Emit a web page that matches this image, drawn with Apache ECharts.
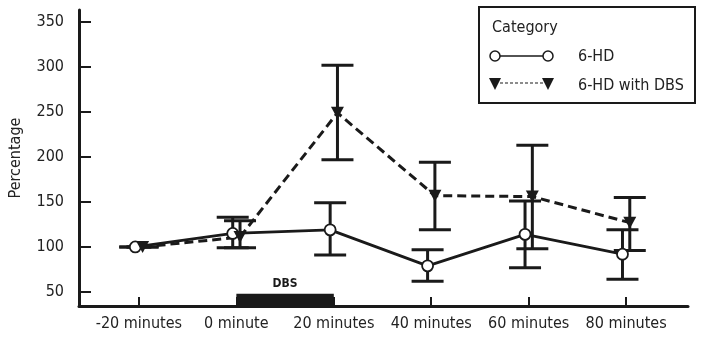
<!DOCTYPE html>
<html>
<head>
<meta charset="utf-8">
<script src="https://cdn.jsdelivr.net/npm/echarts@6/dist/echarts.min.js"></script>
<style>html,body{margin:0;padding:0;background:#fff;}#c{width:702px;height:348px;}</style>
</head>
<body>
<div id="c"></div>
<script>
// ---- data ----
const timePoints = [-20, 0, 20, 40, 60, 80];
const timeLabels = ['-20 minutes', '0 minute', '20 minutes', '40 minutes', '60 minutes', '80 minutes'];
const yTicks = [50, 100, 150, 200, 250, 300, 350];
const hdMean = [100, 115, 119, 79, 114, 92];
const hdLow = [100, 99, 91, 62, 77, 64];
const hdHigh = [100, 133, 149, 97, 151, 119];
const dbsMean = [100, 111, 249, 157, 156, 127];
const dbsLow = [100, 99, 197, 119, 98, 96];
const dbsHigh = [100, 129, 302, 194, 213, 155];
const dbsPeriod = [0, 20];
const dbsLevel = 48;
const seriesNames = ['6-HD', '6-HD with DBS'];
const legendTitle = 'Category';

// ---- build ----
const FONT = "'Liberation Sans Narrow', 'DejaVu Sans Condensed', sans-serif";
const FS = 16;
const DODGE = 0.75;
const hdX = timePoints.map(t => t - DODGE);
const dbsX = timePoints.map(t => t + DODGE);

function errData(xs, lo, hi) { return xs.map((x, i) => [x, lo[i], hi[i]]); }
function errRender(params, api) {
  const x = api.value(0);
  const lo = api.coord([x, api.value(1)]);
  const hi = api.coord([x, api.value(2)]);
  const w = 16;
  const st = { stroke: '#1a1a1a', lineWidth: 3 };
  return {
    type: 'group',
    children: [
      { type: 'line', shape: { x1: lo[0], y1: lo[1], x2: hi[0], y2: hi[1] }, style: st },
      { type: 'line', shape: { x1: lo[0] - w, y1: lo[1], x2: lo[0] + w, y2: lo[1] }, style: st },
      { type: 'line', shape: { x1: hi[0] - w, y1: hi[1], x2: hi[0] + w, y2: hi[1] }, style: st }
    ]
  };
}

const chart = echarts.init(document.getElementById('c'), null, { renderer: 'canvas' });
const option = {
  animation: false,
  backgroundColor: '#fff',
  grid: { left: 79, right: 14, top: 10, bottom: 42, containLabel: false, outerBoundsMode: 'none' },
  xAxis: {
    type: 'value', min: -32.3, max: 92.7,
    splitLine: { show: false },
    axisLine: { onZero: false, lineStyle: { color: '#1a1a1a', width: 3 } },
    axisTick: { inside: true, length: 9, lineStyle: { color: '#1a1a1a', width: 2 }, customValues: timePoints },
    axisLabel: {
      customValues: timePoints, margin: 10,
      fontFamily: FONT, fontSize: FS, color: '#222',
      formatter: v => timeLabels[timePoints.indexOf(v)]
    }
  },
  yAxis: {
    type: 'value', min: 34.4, max: 363.3,
    name: 'Percentage', nameLocation: 'middle', nameGap: 55,
    nameTextStyle: { fontFamily: FONT, fontSize: FS, color: '#222' },
    splitLine: { show: false },
    axisLine: { show: true, onZero: false, lineStyle: { color: '#1a1a1a', width: 3 } },
    axisTick: { inside: true, length: 12, lineStyle: { color: '#1a1a1a', width: 2 }, customValues: yTicks },
    axisLabel: { customValues: yTicks, margin: 15, fontFamily: FONT, fontSize: FS, color: '#222' }
  },
  series: [
    {
      type: 'custom', name: 'dbsbar', z: 1,
      data: [[dbsPeriod[0], dbsPeriod[1], dbsLevel]],
      renderItem: (params, api) => {
        const a = api.coord([api.value(0), api.value(2)]);
        const b = api.coord([api.value(1), api.value(2)]);
        const bottom = params.coordSys.y + params.coordSys.height;
        return {
          type: 'group',
          children: [
            { type: 'rect', shape: { x: a[0], y: a[1], width: b[0] - a[0], height: bottom - a[1] }, style: { fill: '#1a1a1a' } },
            { type: 'text', style: { text: 'DBS', x: (a[0] + b[0]) / 2, y: a[1] - 4, align: 'center', verticalAlign: 'bottom', font: "bold 12px 'DejaVu Sans Condensed', sans-serif", fill: '#1a1a1a' } }
          ]
        };
      }
    },
    { type: 'custom', name: 'hdErr', z: 2, data: errData(hdX, hdLow, hdHigh), renderItem: errRender },
    { type: 'custom', name: 'dbsErr', z: 2, data: errData(dbsX, dbsLow, dbsHigh), renderItem: errRender },
    {
      type: 'line', name: seriesNames[0], z: 3,
      data: hdX.map((x, i) => [x, hdMean[i]]),
      lineStyle: { color: '#1a1a1a', width: 2.8 },
      symbol: 'circle', symbolSize: 11,
      itemStyle: { color: '#fff', borderColor: '#1a1a1a', borderWidth: 1.8 }
    },
    {
      type: 'line', name: seriesNames[1], z: 3,
      data: dbsX.map((x, i) => [x, dbsMean[i]]),
      lineStyle: { color: '#1a1a1a', width: 3, type: [9, 5] },
      symbol: 'triangle', symbolRotate: 180, symbolSize: [13, 12],
      itemStyle: { color: '#1a1a1a' }
    }
  ],
  graphic: [
    { type: 'rect', shape: { x: 479, y: 7, width: 216, height: 96 }, style: { fill: '#fff', stroke: '#1a1a1a', lineWidth: 2 } },
    { type: 'text', style: { text: legendTitle, x: 492, y: 28, verticalAlign: 'middle', font: FS + "px " + FONT, fill: '#222' } },
    { type: 'line', shape: { x1: 495, y1: 56, x2: 548, y2: 56 }, style: { stroke: '#1a1a1a', lineWidth: 1.5 } },
    { type: 'circle', shape: { cx: 495, cy: 56, r: 5 }, style: { fill: '#fff', stroke: '#1a1a1a', lineWidth: 1.5 } },
    { type: 'circle', shape: { cx: 548, cy: 56, r: 5 }, style: { fill: '#fff', stroke: '#1a1a1a', lineWidth: 1.5 } },
    { type: 'text', style: { text: seriesNames[0], x: 578, y: 57, verticalAlign: 'middle', font: FS + "px " + FONT, fill: '#222' } },
    { type: 'line', shape: { x1: 495, y1: 83, x2: 548, y2: 83 }, style: { stroke: '#1a1a1a', lineWidth: 1.2, lineDash: [3, 2] } },
    { type: 'polygon', shape: { points: [[489, 78], [501, 78], [495, 90]] }, style: { fill: '#1a1a1a' } },
    { type: 'polygon', shape: { points: [[542, 78], [554, 78], [548, 90]] }, style: { fill: '#1a1a1a' } },
    { type: 'text', style: { text: seriesNames[1], x: 578, y: 86, verticalAlign: 'middle', font: FS + "px " + FONT, fill: '#222' } }
  ]
};
chart.setOption(option);
</script>
</body>
</html>
